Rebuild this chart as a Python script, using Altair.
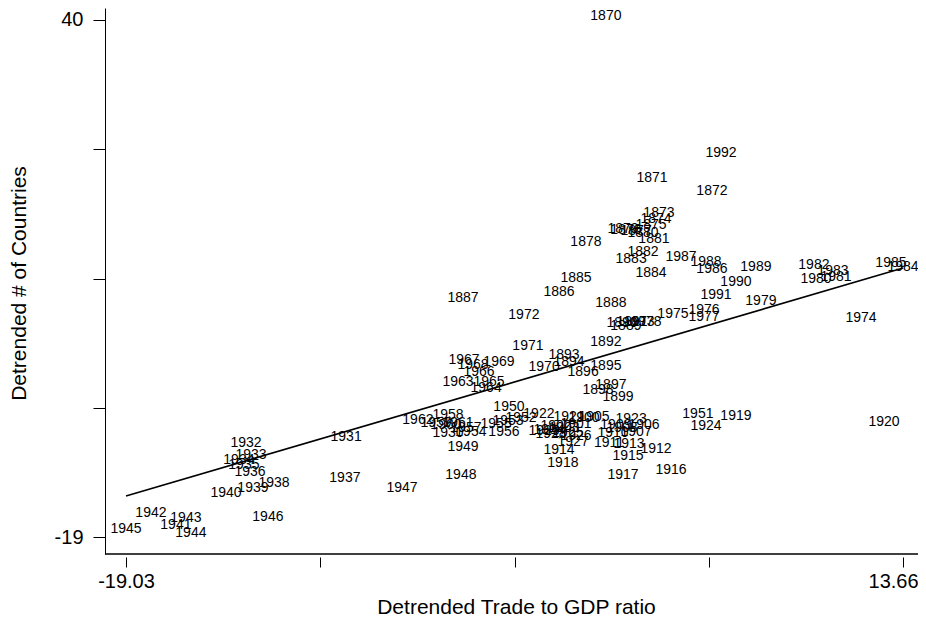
import altair as alt
import pandas as pd

# ---- data ----
years = [
    1870, 1871, 1872, 1873, 1874, 1875, 1876, 1877, 1878, 1879,
    1880, 1881, 1882, 1883, 1884, 1885, 1886, 1887, 1888, 1889,
    1890, 1891, 1892, 1893, 1894, 1895, 1896, 1897, 1898, 1899,
    1900, 1901, 1902, 1903, 1904, 1905, 1906, 1907, 1908, 1909,
    1910, 1911, 1912, 1913, 1914, 1915, 1916, 1917, 1918, 1919,
    1920, 1921, 1922, 1923, 1924, 1925, 1926, 1927, 1928, 1929,
    1930, 1931, 1932, 1933, 1934, 1935, 1936, 1937, 1938, 1939,
    1940, 1941, 1942, 1943, 1944, 1945, 1946, 1947, 1948, 1949,
    1950, 1951, 1952, 1953, 1954, 1955, 1956, 1957, 1958, 1959,
    1960, 1961, 1962, 1963, 1964, 1965, 1966, 1967, 1968, 1969,
    1970, 1971, 1972, 1973, 1974, 1975, 1976, 1977, 1978, 1979,
    1980, 1981, 1982, 1983, 1984, 1985, 1986, 1987, 1988, 1989,
    1990, 1991, 1992,
]

trade = [
    1.16, 3.10, 5.62, 3.39, 3.27, 3.06, 2.00, 2.43, 0.32, 1.88,
    2.72, 3.18, 2.72, 2.22, 3.06, -0.10, -0.81, -4.85, 1.37, 2.00,
    1.84, 2.26, 1.16, -0.60, -0.39, 1.16, 0.20, 1.37, 0.83, 1.67,
    0.24, -0.10, -0.94, -0.60, -1.23, 0.66, 2.76, 2.43, 1.84, 1.58,
    1.46, 1.29, 3.27, 2.13, -0.81, 2.09, 3.90, 1.88, -0.65, 6.63,
    12.86, -0.39, -1.66, 2.22, 5.37, -0.44, -0.10, -0.22, -1.15, -1.44,
    -5.48, -9.77, -13.98, -13.77, -14.28, -14.07, -13.81, -9.82, -12.80, -13.69,
    -14.82, -16.93, -17.98, -16.51, -16.30, -19.03, -13.06, -7.42, -4.94, -4.85,
    -2.92, 5.03, -2.41, -2.96, -4.52, -3.46, -3.13, -4.73, -5.48, -5.99,
    -5.57, -5.06, -6.75, -5.06, -3.88, -3.76, -4.18, -4.81, -4.43, -3.34,
    -1.44, -2.12, -2.29, 2.55, 11.89, 3.98, 5.29, 5.29, 2.85, 7.68,
    10.00, 10.84, 9.91, 10.71, 13.66, 13.15, 5.62, 4.32, 5.37, 7.47,
    6.63, 5.79, 6.00,
]

countries = [
    40.46, 21.97, 20.49, 17.97, 17.29, 16.61, 16.03, 15.92, 14.67, 16.15,
    15.69, 15.01, 13.52, 12.73, 11.13, 10.56, 8.96, 8.27, 7.70, 5.08,
    5.42, 5.54, 3.25, 1.77, 0.97, 0.51, -0.17, -1.65, -2.22, -3.02,
    -5.42, -6.10, -6.33, -6.56, -6.79, -5.31, -6.22, -7.02, -6.56, -6.22,
    -7.13, -8.27, -8.96, -8.39, -9.07, -9.76, -11.35, -11.92, -10.56, -5.19,
    -5.88, -5.31, -4.96, -5.53, -6.33, -7.13, -7.47, -8.16, -7.25, -6.90,
    -7.13, -7.59, -8.27, -9.64, -10.21, -10.78, -11.58, -12.27, -12.84, -13.41,
    -13.98, -17.63, -16.26, -16.83, -18.54, -18.09, -16.72, -13.41, -11.92, -8.73,
    -4.16, -4.96, -5.42, -5.76, -7.02, -6.10, -7.02, -6.56, -5.08, -5.99,
    -6.22, -5.99, -5.65, -1.31, -2.00, -1.31, -0.17, 1.20, 0.63, 0.97,
    0.40, 2.80, 6.33, 5.54, 5.99, 6.45, 6.91, 6.11, 5.54, 7.93,
    10.44, 10.67, 12.04, 11.36, 11.81, 12.27, 11.58, 12.95, 12.38, 11.81,
    10.10, 8.62, 24.82,
]

# fitted line end points
fit_trade = [-19.03, 13.66]
fit_countries = [-14.32, 11.70]

x_ticks = [-19.03, -10.8575, -2.685, 5.4875, 13.66]
x_tick_labels = ["-19.03", "", "", "", "13.66"]
y_ticks = [-19, -4.25, 10.5, 25.25, 40]
y_tick_labels = ["-19", "", "", "", "40"]

x_title = "Detrended Trade to GDP ratio"
y_title = "Detrended # of Countries"

# ---- layout / style ----
FONT = "Liberation Sans"
W, H = 813, 546
x_domain = [-19.913, 14.289]
y_domain = [-20.938, 41.369]


def label_expr(vals, labs):
    parts = [f"abs(datum.value - ({v})) < 1e-6 ? '{l}'" for v, l in zip(vals, labs)]
    return " : ".join(parts) + " : ''"


pts = pd.DataFrame({"x": trade, "y": countries, "label": [str(y) for y in years]})
fit = pd.DataFrame({"x": fit_trade, "y": fit_countries})

x_scale = alt.Scale(domain=x_domain, nice=False, zero=False)
y_scale = alt.Scale(domain=y_domain, nice=False, zero=False)

x_axis = alt.Axis(
    values=x_ticks, labelExpr=label_expr(x_ticks, x_tick_labels),
    domain=False, offset=3, tickSize=10, labelPadding=4,
    labelFontSize=20, titleFontSize=21, title=x_title,
    titleX=411, titleY=50, titleBaseline="middle", titleAlign="center",
    labelFlush=False, labelOverlap=False,
    labelOffset={"expr": "datum.value > 13 ? -10 : 0"},
)
y_axis = alt.Axis(
    values=y_ticks, labelExpr=label_expr(y_ticks, y_tick_labels),
    domain=True, offset=0, tickSize=12, labelPadding=10,
    labelFontSize=20, titleFontSize=21, title=y_title,
    titleX=-86, titleY=275, titleAngle=-90, titleBaseline="middle", titleAlign="center",
    labelFlush=False, labelOverlap=False,
)

text = alt.Chart(pts).mark_text(
    font=FONT, fontSize=14, color="black", align="center", baseline="middle"
).encode(
    x=alt.X("x:Q", scale=x_scale, axis=x_axis),
    y=alt.Y("y:Q", scale=y_scale, axis=y_axis),
    text="label:N",
)

line = alt.Chart(fit).mark_line(color="black", strokeWidth=1.6).encode(
    x=alt.X("x:Q", scale=x_scale, axis=x_axis),
    y=alt.Y("y:Q", scale=y_scale, axis=y_axis),
)

bottom_rule = alt.Chart(fit).mark_rule(color="black", strokeWidth=1).encode(
    x=alt.value(0), x2=alt.value(W), y=alt.value(H)
)

chart = alt.layer(text, line, bottom_rule).properties(
    width=W, height=H,
    autosize=alt.AutoSizeParams(type="none"),
    padding={"left": 97, "top": 0, "right": 0, "bottom": 66},
).configure_view(stroke=None).configure_axis(
    labelFont=FONT, titleFont=FONT, labelColor="black", titleColor="black",
    tickColor="black", domainColor="black", domainWidth=1, tickWidth=1,
    grid=False, titleFontWeight="normal",
)

chart.save("out.html", embed_options={"renderer": "svg", "actions": False})
